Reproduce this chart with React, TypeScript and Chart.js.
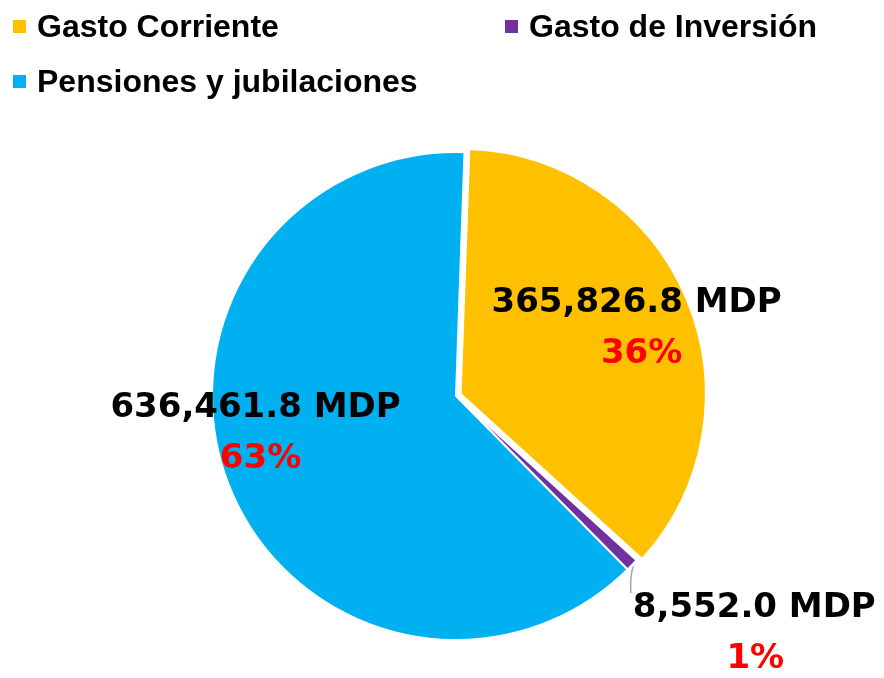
import React, { useEffect, useRef } from "react";
import { Chart, registerables } from "chart.js";

Chart.register(...registerables);

// ---- data ----
const categories = ["Gasto Corriente", "Gasto de Inversión", "Pensiones y jubilaciones"];
const values = [365826.8, 8552.0, 636461.8];
const colors = ["#FFC000", "#7030A0", "#00B0F0"];
const unitLabel = "MDP";

// ---- layout ----
const W = 884;
const H = 678;
const PIE_RADIUS = 244;
const PIE_ROTATION = 2;
// Chart.js draws arcs shifted by offset / 4 pixels
const SLICE_OFFSETS = [20, 0, 0];
const LEGEND_POS = [
  { x: 13, y: 20 },
  { x: 505, y: 20 },
  { x: 13, y: 75 },
];
const LEGEND_BOX = 13;
const LEGEND_TEXT_GAP = 11;
const LEGEND_FONT = "bold 32px 'Liberation Sans', Arial, sans-serif";
const LABEL_FONT = "bold 34px 'DejaVu Sans', sans-serif";
const LABEL_LINE_GAP = 51;
const LABEL_LAYOUT = [
  { f: 0.75, dx: 12, dy: -13, pdx: 5, leader: false },
  { f: 1.45, dx: 43, dy: -24, pdx: 1, leader: true },
  { f: 0.75, dx: -30, dy: -46, pdx: 5, leader: false },
];

const total = values.reduce((a, b) => a + b, 0);
const fmt = (v: number) =>
  v.toLocaleString("en-US", { minimumFractionDigits: 1, maximumFractionDigits: 1 }) + " " + unitLabel;
const pct = (v: number) => Math.round((v / total) * 100) + "%";

const legendPlugin = {
  id: "customLegend",
  afterDraw(chart: any) {
    const ctx = chart.ctx;
    ctx.save();
    ctx.font = LEGEND_FONT;
    ctx.textBaseline = "alphabetic";
    ctx.textAlign = "left";
    categories.forEach((name, i) => {
      const p = LEGEND_POS[i];
      ctx.fillStyle = colors[i];
      ctx.fillRect(p.x, p.y, LEGEND_BOX, LEGEND_BOX);
      ctx.fillStyle = "#000000";
      ctx.fillText(name, p.x + LEGEND_BOX + LEGEND_TEXT_GAP, p.y + 16.5);
    });
    ctx.restore();
  },
};

const labelPlugin = {
  id: "sliceLabels",
  afterDatasetsDraw(chart: any) {
    const ctx = chart.ctx;
    const meta = chart.getDatasetMeta(0);
    ctx.save();
    ctx.font = LABEL_FONT;
    ctx.textAlign = "center";
    ctx.textBaseline = "alphabetic";
    meta.data.forEach((arc: any, i: number) => {
      const { x, y, startAngle, endAngle, outerRadius } = arc.getProps(
        ["x", "y", "startAngle", "endAngle", "outerRadius"],
        true
      );
      const mid = (startAngle + endAngle) / 2;
      const L = LABEL_LAYOUT[i];
      const r = outerRadius * L.f;
      const cx = x + Math.cos(mid) * r + L.dx;
      const b1 = y + Math.sin(mid) * r + L.dy;
      const line1 = fmt(values[i]);
      const line2 = pct(values[i]);
      if (L.leader) {
        const w = ctx.measureText(line1).width;
        const sx = x + Math.cos(mid) * (outerRadius + 2);
        const sy = y + Math.sin(mid) * (outerRadius + 2);
        const ex = cx - w / 2 - 2;
        const ey = b1 - 24;
        ctx.strokeStyle = "#A6A6A6";
        ctx.lineWidth = 1.5;
        ctx.beginPath();
        ctx.moveTo(sx, sy);
        ctx.quadraticCurveTo(ex - 1, sy + 8, ex, ey);
        ctx.stroke();
      }
      ctx.fillStyle = "#000000";
      ctx.fillText(line1, cx, b1);
      ctx.fillStyle = "#FF0000";
      ctx.fillText(line2, cx + L.pdx, b1 + LABEL_LINE_GAP);
    });
    ctx.restore();
  },
};

export default function App() {
  const canvasRef = useRef<HTMLCanvasElement | null>(null);

  useEffect(() => {
    document.body.style.margin = "0";
    const canvas = canvasRef.current;
    if (!canvas) return;
    const chart = new Chart(canvas, {
      type: "pie",
      data: {
        labels: categories,
        datasets: [
          {
            data: values,
            backgroundColor: colors,
            borderColor: "#FFFFFF",
            borderWidth: 2,
            offset: SLICE_OFFSETS,
            hoverOffset: 0,
          } as any,
        ],
      },
      options: {
        responsive: false,
        animation: false,
        rotation: PIE_ROTATION,
        radius: PIE_RADIUS,
        layout: { padding: { left: 28, right: 0, top: 114, bottom: 0 } },
        plugins: {
          legend: { display: false },
          tooltip: { enabled: false },
        },
        events: [],
      } as any,
      plugins: [legendPlugin, labelPlugin],
    });
    return () => chart.destroy();
  }, []);

  return (
    <div style={{ position: "absolute", left: 0, top: 0, width: W, height: H, background: "#FFFFFF" }}>
      <canvas ref={canvasRef} width={W} height={H} style={{ display: "block", width: W, height: H }} />
    </div>
  );
}
